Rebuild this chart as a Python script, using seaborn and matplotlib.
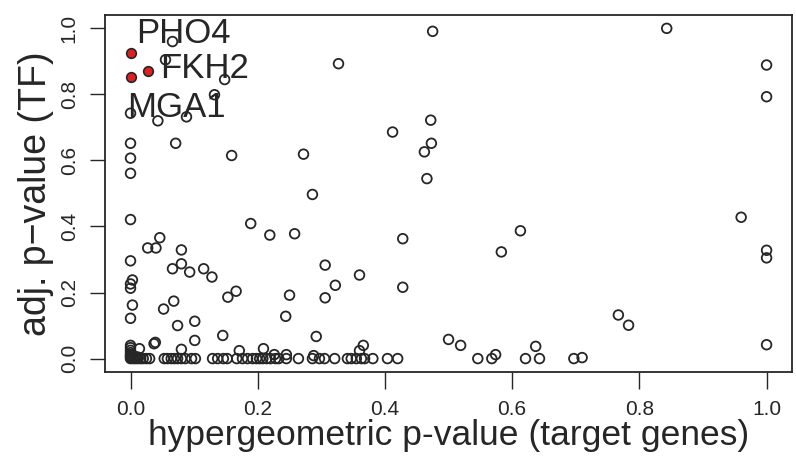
import numpy as np
import pandas as pd
import matplotlib
matplotlib.use("Agg")
import matplotlib.pyplot as plt
import seaborn as sns

# hypergeometric p-value (x) vs adjusted TF p-value (y)
open_x = [0.066, 0.055, 0.148, 0.132, 0.327, 0.0, 0.043, 0.088, 0.0, 0.071,
          0.0, 0.0, 0.159, 0.272, 0.286,
          0.0, 0.0, 0.003, 0.0, 0.0, 0.003, 0.0, 0.027, 0.040, 0.046,
          0.080, 0.080, 0.066, 0.093, 0.115, 0.128, 0.189, 0.219, 0.258, 0.306,
          0.322, 0.306, 0.250, 0.244, 0.292, 0.153, 0.166, 0.068, 0.052, 0.074,
          0.101, 0.101, 0.080, 0.039, 0.145, 0.171, 0.209, 0.226, 0.245, 0.288,
          0.014, 0.037,
          0.475, 0.472, 0.412, 0.473, 0.462, 0.466,
          0.360, 0.366, 0.574, 0.637, 0.500, 0.519, 0.360, 0.428, 0.428, 0.583,
          0.613,
          0.843, 1.0, 1.0, 0.960, 1.0, 1.0, 0.767, 0.783, 1.0, 0.697, 0.710]
open_y = [0.960, 0.905, 0.845, 0.799, 0.893, 0.743, 0.720, 0.732, 0.652, 0.652,
          0.607, 0.561, 0.615, 0.619, 0.497,
          0.421, 0.296, 0.238, 0.226, 0.213, 0.162, 0.122, 0.335, 0.335, 0.366,
          0.329, 0.287, 0.272, 0.262, 0.272, 0.247, 0.409, 0.374, 0.378, 0.283,
          0.222, 0.184, 0.192, 0.128, 0.067, 0.186, 0.204, 0.174, 0.150, 0.100,
          0.113, 0.055, 0.028, 0.049, 0.070, 0.024, 0.030, 0.012, 0.012, 0.009,
          0.030, 0.045,
          0.991, 0.722, 0.686, 0.652, 0.626, 0.545,
          0.024, 0.040, 0.012, 0.037, 0.058, 0.040, 0.253, 0.363, 0.216, 0.323,
          0.387,
          1.0, 0.889, 0.793, 0.428, 0.328, 0.305, 0.132, 0.101, 0.042, 0.0, 0.003]

# points sitting on (or very near) the bottom line
zero_x = [0.0, 0.0, 0.0, 0.0, 0.0, 0.0, 0.0, 0.0, 0.004, 0.004, 0.008, 0.008,
          0.012, 0.012, 0.016, 0.020, 0.025, 0.030,
          0.053, 0.058, 0.064, 0.069, 0.074, 0.080, 0.086, 0.096, 0.102,
          0.129, 0.137, 0.146, 0.152, 0.167, 0.176, 0.184, 0.192, 0.198, 0.203,
          0.208, 0.214, 0.220, 0.228, 0.233, 0.245, 0.264, 0.286, 0.297, 0.305,
          0.321, 0.341, 0.347, 0.355, 0.363, 0.368, 0.381, 0.404, 0.420, 0.546,
          0.568, 0.621, 0.643]
zero_y = [0.0, 0.004, 0.008, 0.012, 0.018, 0.025, 0.033, 0.040, 0.0, 0.006,
          0.0, 0.006, 0.0, 0.004, 0.0, 0.0, 0.0, 0.0,
          0.0, 0.0, 0.0, 0.0, 0.0, 0.0, 0.0, 0.0, 0.0,
          0.0, 0.0, 0.0, 0.0, 0.0, 0.0, 0.0, 0.0, 0.0, 0.0,
          0.0, 0.0, 0.0, 0.0, 0.0, 0.0, 0.0, 0.0, 0.0, 0.0,
          0.0, 0.0, 0.0, 0.0, 0.0, 0.0, 0.0, 0.0, 0.0, 0.0,
          0.0, 0.0, 0.0]

# highlighted TFs
red_x = [0.0, 0.0, 0.028]
red_y = [0.924, 0.854, 0.872]
tf_names = ["PHO4", "FKH2", "MGA1"]
label_x = [0.009, 0.046, -0.006]
label_y = [0.985, 0.878, 0.759]

df = pd.DataFrame({"x": open_x + zero_x, "y": open_y + zero_y})
hl = pd.DataFrame({"x": red_x, "y": red_y})

sns.set_style("ticks")
plt.rcParams["font.family"] = ["Liberation Sans", "DejaVu Sans"]

ink = "#262626"
fig = plt.figure(figsize=(7.96, 4.59), dpi=100)
ax = fig.add_axes([0.132, 0.19, 0.863, 0.777])

sns.scatterplot(data=df, x="x", y="y", ax=ax, marker="o", s=48,
                facecolor="none", edgecolor=ink, linewidth=1.3, zorder=3)
sns.scatterplot(data=hl, x="x", y="y", ax=ax, marker="o", s=48,
                color="#e02020", edgecolor=ink, linewidth=1.2, zorder=4)

for name, tx, ty in zip(tf_names, label_x, label_y):
    ax.text(tx, ty, name, fontsize=25, color=ink, ha="left", va="center",
            zorder=5)

ax.set_xlim(-0.04, 1.04)
ax.set_ylim(-0.04, 1.04)
ticks = np.linspace(0, 1, 6)
ax.set_xticks(ticks)
ax.set_yticks(ticks)
ax.set_xticklabels([f"{t:.1f}" for t in ticks])
ax.set_yticklabels([f"{t:.1f}" for t in ticks], rotation=90, va="center")
ax.tick_params(axis="x", length=12, width=1.0, colors=ink, labelsize=15, pad=8)
ax.tick_params(axis="y", length=11, width=1.0, colors=ink, labelsize=15, pad=8)
for sp in ax.spines.values():
    sp.set_visible(True)
    sp.set_color(ink)
    sp.set_linewidth(1.3)

ax.set_xlabel("hypergeometric p-value (target genes)", fontsize=25.5, color=ink,
              labelpad=0)
ax.set_ylabel("adj. p\u2212value (TF)", fontsize=27, color=ink, labelpad=4)

fig.savefig("out.png", dpi=100)
